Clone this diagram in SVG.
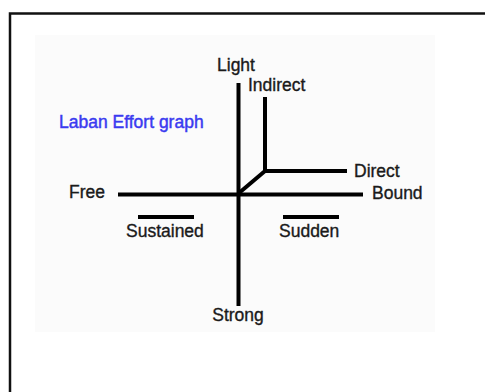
<svg xmlns="http://www.w3.org/2000/svg" width="485" height="392" viewBox="0 0 485 392">
<style>
.lbl{font-family:"Liberation Sans",Arial,sans-serif;font-size:17.5px;fill:#1a1a1a;stroke:#1a1a1a;stroke-width:0.35}
.ttl{font-family:"Liberation Sans",Arial,sans-serif;font-size:17.5px;fill:#3a3af0;stroke:#3a3af0;stroke-width:0.45}
.ax{stroke:#000;stroke-width:4;fill:none;stroke-linecap:butt}
</style>
<rect x="0" y="0" width="485" height="392" fill="#fff"/>
<path d="M10,392 V13.5 H485" fill="none" stroke="#111" stroke-width="2.5"/>
<rect x="35" y="35" width="400" height="297" fill="#fbfbfb"/>
<g id="connectors">
<line class="ax" x1="238.5" y1="83" x2="238.5" y2="306"/>
<line class="ax" x1="118" y1="194.5" x2="363" y2="194.5"/>
<path class="ax" d="M265,97 V171 H347 M265,171 L239,193" stroke-linejoin="miter"/>
<line class="ax" x1="138" y1="217" x2="194" y2="217"/>
<line class="ax" x1="283" y1="217" x2="339" y2="217"/>
</g>
<g id="title"><text class="ttl" x="59" y="128">Laban Effort graph</text></g>
<g id="light"><text class="lbl" x="236" y="71" text-anchor="middle">Light</text></g>
<g id="indirect"><text class="lbl" x="248" y="90.5">Indirect</text></g>
<g id="direct"><text class="lbl" x="354" y="176.5">Direct</text></g>
<g id="free"><text class="lbl" x="69" y="197.5">Free</text></g>
<g id="bound"><text class="lbl" x="372" y="199">Bound</text></g>
<g id="sustained"><text class="lbl" x="126" y="237">Sustained</text></g>
<g id="sudden"><text class="lbl" x="279" y="237">Sudden</text></g>
<g id="strong"><text class="lbl" x="238" y="321" text-anchor="middle">Strong</text></g>
</svg>
